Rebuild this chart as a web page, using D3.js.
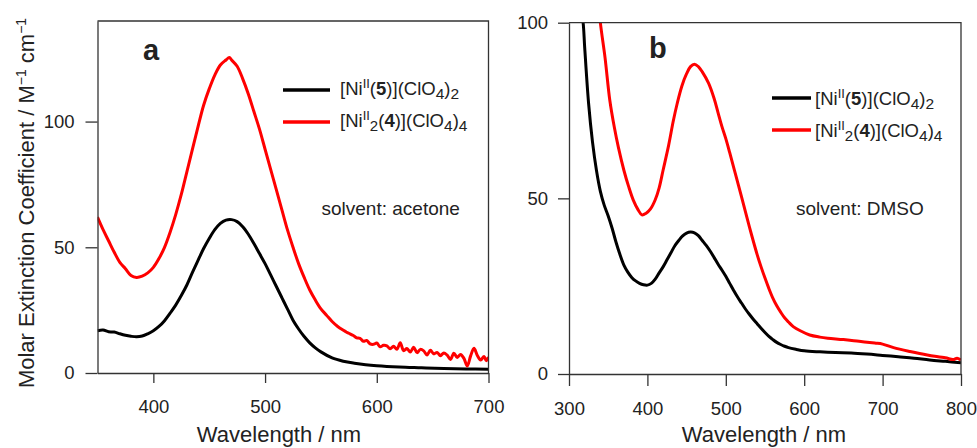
<!DOCTYPE html>
<html>
<head>
<meta charset="utf-8">
<script src="https://cdn.jsdelivr.net/npm/d3@7"></script>
<style>
  body { margin: 0; background: #fff; }
  svg text { font-family: "Liberation Sans", Arial, sans-serif; fill: #222; }
</style>
</head>
<body>
<svg id="canvas" width="977" height="448"></svg>
<script>
// ---- data ----
// panel a: acetone
let acMonoWl  = [350,355,360,365,370,375,380,385,390,395,400,405,410,415,420,425,430,435,440,445,450,455,460,465,470,475,480,485,490,495,500,505,510,515,520,525,530,535,540,545,550,560,570,580,590,600,620,640,660,680,700];
let acMonoEps = [16.8,17.1,16.4,16.3,15.6,15.0,14.6,14.4,14.7,15.6,16.8,18.5,20.8,23.8,27.0,30.8,35.0,40.0,44.8,49.5,53.5,57.0,59.5,60.8,61.0,60.2,58.2,55.2,51.5,47.5,43.5,39.0,34.5,30.0,25.5,21.0,17.5,14.5,12.0,10.0,8.4,6.0,4.7,3.9,3.3,2.9,2.4,2.1,1.8,1.6,1.5];

let acDiWl  = [350,355,360,365,370,375,380,385,390,395,400,405,410,415,420,425,430,435,440,445,450,455,460,465,468,470,475,480,485,490,495,500,505,510,515,520,525,530,535,540,545,550,555,560,565,
               570,573,576,579,582,585,588,591,594,597,600,603,606,609,612,615,618,621,624,627,630,633,636,639,642,645,648,651,654,657,660,663,666,669,672,675,678,681,684,687,690,693,696,698,700];
let acDiEps = [62,57,52.5,48,44,41.5,38.8,38,38.5,39.8,42,45.5,50,56,63,71,80,89,98,106.5,113,118.5,122.5,124.5,125.5,124.5,122,117,111,104,97,89,81,73,65,57,50,43.5,38,33,29,25.5,23,20.5,18.5,
               17.0,16.2,15.6,14.9,14.0,13.8,12.6,12.9,11.6,11.4,11.9,10.4,11.0,10.8,9.6,10.6,9.4,12.0,8.9,9.7,8.4,10.2,8.1,9.4,8.8,7.2,9.0,7.6,8.2,6.9,8.0,7.1,5.4,7.9,6.2,7.4,5.8,2.8,6.8,9.8,7.0,5.2,6.6,4.9,6.3];

// panel b: DMSO
let dmMonoWl  = [300,310,315,318,320,325,330,335,340,345,350,355,360,365,370,375,380,385,390,395,400,405,410,415,420,425,430,435,440,445,450,455,460,465,470,475,480,485,490,495,500,505,510,515,520,525,530,535,540,545,550,555,560,565,570,575,580,590,600,620,640,660,680,700,720,740,760,780,800];
let dmMonoEps = [140,118,104,100,93,77,66,58,52,48,45,41.5,37.5,34,31,29,27.5,26.5,25.8,25.4,25.3,25.8,27,28.8,30.5,32.5,34.5,36.5,38,39.3,40.1,40.4,40.2,39.4,38,36.6,35,33.2,31.3,29.6,27.8,25.8,23.8,21.9,20.2,18.5,17,15.6,14.3,13,11.8,10.7,9.8,9,8.4,7.9,7.5,7,6.6,6.3,6.1,6,5.7,5.3,4.9,4.5,4,3.6,3.2];

let dmDiWl  = [330,336,340,346,352,358,363,370,376,382,388,393,398,404,410,415,420,427,433,438,444,450,455,460,465,470,478,485,490,495,500,505,512,520,527,533,540,545,550,555,560,565,570,575,580,586,595,607,620,630,650,670,690,700,714,735,757,780,790,795,800];
let dmDiEps = [130,110,100,90,78,70,64.5,58,53.4,49.5,46.8,45.3,45.7,47,49.6,53,58,65,72,77,82,85.5,87.5,88.2,87.5,86,82.8,78.5,74.5,70.5,67,63,57.2,50.5,44.5,39.5,34,30.5,27.3,24.3,21.6,19.4,17.6,16,14.8,13.5,12.3,11.1,10.5,10.2,9.8,9.3,8.8,8.5,7.5,6.4,5.4,4.6,4.1,4.5,4];

let seriesNames = [["[Ni", "II", "", "(", "5", ")](ClO", "4", ")", "2"],
                   ["[Ni", "II", "2", "(", "4", ")](ClO", "4", ")", "4"]];
let seriesColors = ['#000000', '#ff0000'];

let panels = [
  { id: 'a', xDomain: [350, 700], yDomain: [0, 140], xRange: [97.5, 488.5], yRange: [373, 21],
    xMajor: [400, 500, 600, 700], xMinor: [350, 450, 550, 650], yMajor: [0, 50, 100], yMinor: d3.range(0, 141, 10),
    series: [[acMonoWl, acMonoEps], [acDiWl, acDiEps]], solvent: 'solvent: acetone',
    xt: [10, 6, 17], yt: [12, 8, 11],
    letter: [143, 60], legend: [283, 330, 340, 90, 95], solventPos: [321.5, 215], xTitle: 279 },
  { id: 'b', xDomain: [300, 800], yDomain: [0, 100], xRange: [569, 961], yRange: [374, 22.7],
    xMajor: [300, 400, 500, 600, 700, 800], xMinor: [350, 450, 550, 650, 750], yMajor: [0, 50, 100], yMinor: d3.range(0, 101, 10),
    series: [[dmMonoWl, dmMonoEps], [dmDiWl, dmDiEps]], solvent: 'solvent: DMSO',
    xt: [12, 8, 16], yt: [11, 7, 10],
    letter: [649, 58], legend: [772, 811, 815, 98, 105], solventPos: [796, 215], xTitle: 764 }
];

let svg = d3.select('#canvas');

panels.forEach(p => {
  let x = d3.scaleLinear().domain(p.xDomain).range(p.xRange);
  let y = d3.scaleLinear().domain(p.yDomain).range(p.yRange);
  let g = svg.append('g').attr('class', 'panel-' + p.id);

  g.append('clipPath').attr('id', 'clip-' + p.id)
    .append('rect')
    .attr('x', p.xRange[0]).attr('y', p.yRange[1])
    .attr('width', p.xRange[1] - p.xRange[0])
    .attr('height', p.yRange[0] - p.yRange[1]);

  // curves
  let line = d3.line()
      .x(d => x(d[0]))
      .y(d => y(d[1]))
      .curve(d3.curveCatmullRom.alpha(0.5));
  p.series.forEach((s, i) => {
    let pts = s[0].map((w, j) => [w, s[1][j]]);
    g.append('path')
      .datum(pts)
      .attr('clip-path', 'url(#clip-' + p.id + ')')
      .attr('d', line)
      .attr('fill', 'none')
      .attr('stroke', seriesColors[i])
      .attr('stroke-width', 3)
      .attr('stroke-linejoin', 'round');
  });

  // axes: minor ticks first, then major with labels
  let bottom = g.append('g').attr('transform', 'translate(0,' + p.yRange[0] + ')');
  bottom.call(d3.axisBottom(x).tickValues(p.xMinor).tickSize(p.xt[1]).tickFormat(''));
  bottom.call(d3.axisBottom(x).tickValues(p.xMajor).tickSize(p.xt[0]).tickPadding(p.xt[2]).tickSizeOuter(0));
  let left = g.append('g').attr('transform', 'translate(' + p.xRange[0] + ',0)');
  left.call(d3.axisLeft(y).tickValues(p.yMinor).tickSize(p.yt[1]).tickFormat(''));
  left.call(d3.axisLeft(y).tickValues(p.yMajor).tickSize(p.yt[0]).tickPadding(p.yt[2]).tickSizeOuter(0));
  g.selectAll('.domain, .tick line').attr('stroke', '#333').attr('stroke-width', 1.3);
  g.selectAll('.tick text').attr('fill', '#222').style('font-size', '18.5px').style('font-family', '"Liberation Sans", Arial, sans-serif');

  // frame top / right
  g.append('path')
    .attr('d', 'M' + p.xRange[0] + ',' + p.yRange[1] + 'H' + p.xRange[1] + 'V' + p.yRange[0])
    .attr('fill', 'none').attr('stroke', '#333').attr('stroke-width', 1.3);

  // panel letter
  g.append('text').attr('x', p.letter[0]).attr('y', p.letter[1])
    .style('font-size', '29px').style('font-weight', 'bold').attr('fill', '#000')
    .text(p.id);

  // legend
  seriesNames.forEach((parts, i) => {
    let ly = p.legend[3] + i * 32;
    g.append('line')
      .attr('x1', p.legend[0]).attr('x2', p.legend[1])
      .attr('y1', ly).attr('y2', ly)
      .attr('stroke', seriesColors[i]).attr('stroke-width', 3.5);
    let t = g.append('text').attr('x', p.legend[2]).attr('y', p.legend[4] + i * 32)
      .style('font-size', '18.5px');
    t.append('tspan').text(parts[0]);
    t.append('tspan').attr('dy', -7).style('font-size', '13px').text(parts[1]);
    if (parts[2]) {
      t.append('tspan').attr('dy', 11).style('font-size', '15px').text(parts[2]);
      t.append('tspan').attr('dy', -4).text(parts[3]);
    } else {
      t.append('tspan').attr('dy', 7).text(parts[3]);
    }
    t.append('tspan').style('font-weight', 'bold').text(parts[4]);
    t.append('tspan').text(parts[5]);
    t.append('tspan').attr('dy', 4).style('font-size', '15.5px').text(parts[6]);
    t.append('tspan').attr('dy', -4).text(parts[7]);
    t.append('tspan').attr('dy', 4).style('font-size', '15.5px').text(parts[8]);
  });

  // solvent note
  g.append('text').attr('x', p.solventPos[0]).attr('y', p.solventPos[1])
    .style('font-size', '19px').text(p.solvent);

  // x title
  g.append('text').attr('x', p.xTitle).attr('y', 442)
    .attr('text-anchor', 'middle').style('font-size', '22px')
    .text('Wavelength / nm');
});

// y title (left panel only)
let yt = svg.append('text')
  .attr('transform', 'translate(33.5,203) rotate(-90)')
  .attr('text-anchor', 'middle')
  .style('font-size', '22px');
yt.append('tspan').text('Molar Extinction Coefficient / M');
yt.append('tspan').attr('dy', -8).style('font-size', '14px').text('\u22121');
yt.append('tspan').attr('dy', 8).text(' cm');
yt.append('tspan').attr('dy', -8).style('font-size', '14px').text('\u22121');
</script>
</body>
</html>
